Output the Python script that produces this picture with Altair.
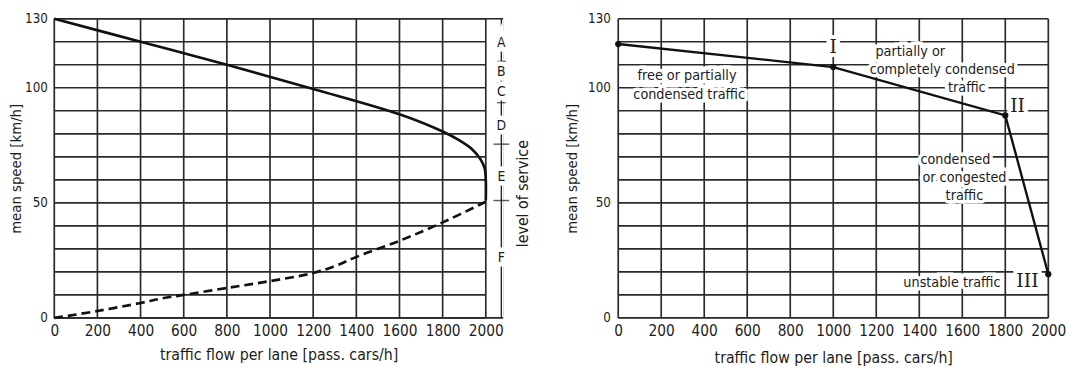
import altair as alt
import pandas as pd

# ---------------- left panel data ----------------
flow_free = [0, 400, 800, 1200, 1600, 1800, 1880, 1940, 1975, 1995, 2000, 2000]
speed_free = [130, 120, 110, 99.5, 88.5, 81, 77, 73, 69, 65, 60, 51]
flow_cong = [0, 200, 400, 500, 600, 800, 1000, 1200, 1300, 1400, 1600, 1800, 2000]
speed_cong = [0, 3, 6.5, 8.5, 10, 13, 16, 19.5, 22.5, 26.5, 33.5, 41.5, 50.5]

los_letters = ["A", "B", "C", "D", "E", "F"]
los_letter_speed = [119.5, 107, 98, 83.5, 61, 26]
los_minor = [111.5, 102, 93.5]
los_major = [75.5, 51]
los_flow = 2072
los_label = "level of service"

x_ticks = list(range(0, 2001, 200))
y_grid = list(range(0, 131, 10))
y_labels = [0, 50, 100, 130]
y_edges = [0, 130]

# ---------------- right panel data ----------------
pt_flow = [0, 1000, 1800, 2000]
pt_speed = [119, 109, 88, 19]
roman = ["I", "II", "III"]
roman_flow = [1000, 1857, 1903]
roman_speed = [117.6, 92, 16]
note_lines = ["free or partially", "condensed traffic", "partially or",
              "completely condensed", "traffic", "condensed", "or congested",
              "traffic", "unstable traffic"]
note_flow = [320, 330, 1358, 1507, 1621, 1568, 1610, 1610, 1552]
note_speed = [105, 96.9, 115.4, 107.5, 99.7, 68.7, 60.6, 52.9, 15.2]

XTITLE = "traffic flow per lane [pass. cars/h]"
YTITLE = "mean speed [km/h]"
FONT = "DejaVu Sans Condensed, DejaVu Sans"
INK = "#1c1c1c"
GRID = "#2a2a2a"


def xaxis(pad, tpad):
    return alt.Axis(values=x_ticks, format="d", grid=False, ticks=False, domain=False,
                    labelPadding=pad, titlePadding=tpad, labelFontSize=15.5,
                    titleFontSize=16, labelFont=FONT, titleFont=FONT,
                    titleFontWeight="normal", labelColor=INK, titleColor=INK,
                    labelFlush=False)


def yaxis(pad, tpad):
    return alt.Axis(values=y_labels, format="d", grid=False, ticks=False, domain=False,
                    labelPadding=pad, titlePadding=tpad, labelFontSize=13.5,
                    titleFontSize=15, labelFont=FONT, titleFont=FONT,
                    titleFontWeight="normal", labelColor=INK, titleColor=INK,
                    labelFlush=False)


# ================= LEFT =================
xsL = alt.Scale(domain=[0, 2080], nice=False, zero=False)
ysL = alt.Scale(domain=[0, 130], nice=False, zero=False)
axL_x = xaxis(6, 8)
axL_y = yaxis(7, 1)


def XL(field=None, datum=None):
    if datum is not None:
        return alt.X(datum=datum, type="quantitative", scale=xsL, axis=axL_x, title=XTITLE)
    return alt.X(field, type="quantitative", scale=xsL, axis=axL_x, title=XTITLE)


def YL(field):
    return alt.Y(field, type="quantitative", scale=ysL, axis=axL_y, title=YTITLE)


df_vx = pd.DataFrame({"flow": x_ticks})
df_hy = pd.DataFrame({"speed": y_grid})
df_edge = pd.DataFrame({"speed": y_edges})
df_free = pd.DataFrame({"flow": flow_free, "speed": speed_free, "i": range(len(flow_free))})
df_cong = pd.DataFrame({"flow": flow_cong, "speed": speed_cong, "i": range(len(flow_cong))})
df_let = pd.DataFrame({"t": los_letters, "speed": los_letter_speed, "flow": [los_flow] * 6})
df_minor = pd.DataFrame({"speed": los_minor, "flow": [los_flow] * len(los_minor)})
df_major = pd.DataFrame({"speed": los_major, "flow": [los_flow] * len(los_major)})
df_loslab = pd.DataFrame({"t": [los_label], "flow": [2171], "speed": [54]})

vgridL = alt.Chart(df_vx).mark_rule(color=GRID, strokeWidth=1.7).encode(x=XL("flow"))
hgridL = alt.Chart(df_hy).mark_rule(color=GRID, strokeWidth=1.7).encode(
    y=YL("speed"), x=XL(datum=0), x2=alt.X2(datum=2000))
edgeL = alt.Chart(df_edge).mark_rule(color=GRID, strokeWidth=1.7).encode(
    y=YL("speed"), x=XL(datum=0), x2=alt.X2(datum=2080))
losline = alt.Chart(pd.DataFrame({"flow": [los_flow]})).mark_rule(
    color=INK, strokeWidth=1.3).encode(x=XL("flow"))
minor = alt.Chart(df_minor).mark_tick(orient="horizontal", size=9, thickness=1.3,
                                      color=INK).encode(x=XL("flow"), y=YL("speed"))
major = alt.Chart(df_major).mark_tick(orient="horizontal", size=16, thickness=1.5,
                                      color=INK).encode(x=XL("flow"), y=YL("speed"))
free = alt.Chart(df_free).mark_line(color="#111", strokeWidth=2.7,
                                    interpolate="catmull-rom").encode(
    x=XL("flow"), y=YL("speed"), order="i:Q")
cong = alt.Chart(df_cong).mark_line(color="#111", strokeWidth=2.7, strokeDash=[9, 5],
                                    interpolate="catmull-rom").encode(
    x=XL("flow"), y=YL("speed"), order="i:Q")
lethalo = alt.Chart(df_let).mark_text(font=FONT, fontSize=14, color="white",
                                      stroke="white", strokeWidth=9,
                                      baseline="middle").encode(
    x=XL("flow"), y=YL("speed"), text="t:N")
lets = alt.Chart(df_let).mark_text(font=FONT, fontSize=14, color=INK,
                                   baseline="middle").encode(
    x=XL("flow"), y=YL("speed"), text="t:N")
loslab = alt.Chart(df_loslab).mark_text(font=FONT, fontSize=16, color=INK, angle=270,
                                        baseline="middle", align="center").encode(
    x=XL("flow"), y=YL("speed"), text="t:N")

left = alt.layer(vgridL, hgridL, edgeL, losline, minor, major, free, cong,
                 lethalo, lets, loslab).properties(width=456, height=304)

# ================= RIGHT =================
xsR = alt.Scale(domain=[0, 2000], nice=False, zero=False)
ysR = alt.Scale(domain=[0, 130], nice=False, zero=False)
axR_x = xaxis(6, 11)
axR_y = yaxis(8, 8)


def XR(field):
    return alt.X(field, type="quantitative", scale=xsR, axis=axR_x, title=XTITLE)


def YR(field):
    return alt.Y(field, type="quantitative", scale=ysR, axis=axR_y, title=YTITLE)


df_pts = pd.DataFrame({"flow": pt_flow, "speed": pt_speed, "i": range(len(pt_flow))})
df_rom = pd.DataFrame({"t": roman, "flow": roman_flow, "speed": roman_speed})
df_note = pd.DataFrame({"t": note_lines, "flow": note_flow, "speed": note_speed})

vgridR = alt.Chart(df_vx).mark_rule(color=GRID, strokeWidth=1.7).encode(x=XR("flow"))
hgridR = alt.Chart(df_hy).mark_rule(color=GRID, strokeWidth=1.7).encode(y=YR("speed"))
notehalo = alt.Chart(df_note).mark_text(font=FONT, fontSize=14.5, color="white",
                                        stroke="white", strokeWidth=7,
                                        baseline="middle").encode(
    x=XR("flow"), y=YR("speed"), text="t:N")
romhalo = alt.Chart(df_rom).mark_text(font="DejaVu Serif", fontSize=19, color="white",
                                      stroke="white", strokeWidth=8,
                                      baseline="middle").encode(
    x=XR("flow"), y=YR("speed"), text="t:N")
lineR = alt.Chart(df_pts).mark_line(color="#111", strokeWidth=2.4).encode(
    x=XR("flow"), y=YR("speed"), order="i:Q")
ptsR = alt.Chart(df_pts).mark_point(filled=True, size=40, color="#111", opacity=1).encode(
    x=XR("flow"), y=YR("speed"))
notes = alt.Chart(df_note).mark_text(font=FONT, fontSize=14.5, color=INK,
                                     baseline="middle").encode(
    x=XR("flow"), y=YR("speed"), text="t:N")
roms = alt.Chart(df_rom).mark_text(font="DejaVu Serif", fontSize=19, color=INK,
                                   baseline="middle").encode(
    x=XR("flow"), y=YR("speed"), text="t:N")

right = alt.layer(vgridR, hgridR, notehalo, romhalo, lineR, ptsR, notes,
                  roms).properties(width=437, height=304)

chart = alt.hconcat(left, right, spacing=33).properties(
    padding={"left": 0, "top": 0, "right": 0, "bottom": 0}
).configure_view(stroke=None).configure(background="white")

chart.save("out.html", embed_options={"renderer": "svg", "actions": False})
